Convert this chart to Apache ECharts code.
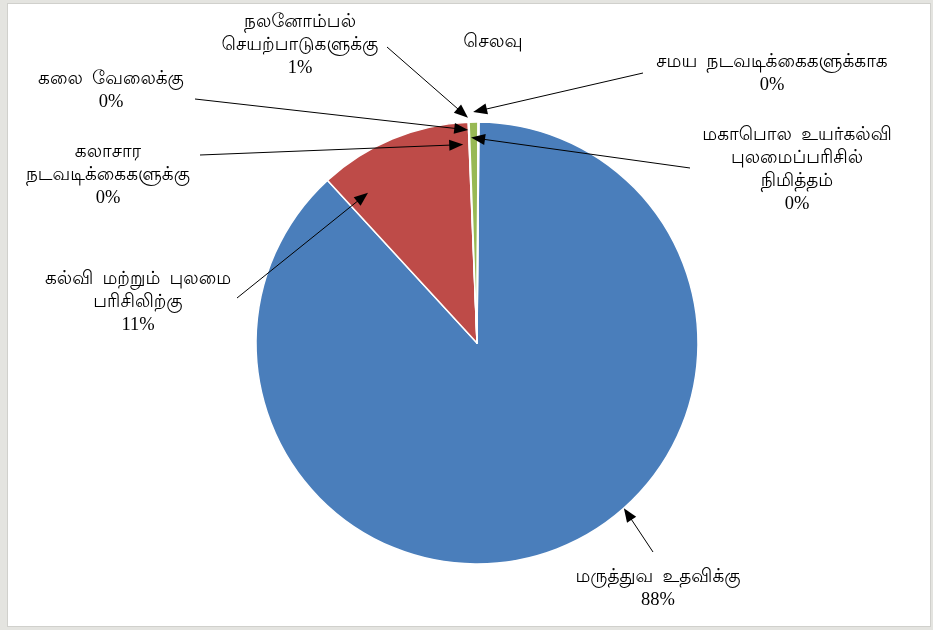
<!DOCTYPE html>
<html>
<head>
<meta charset="utf-8">
<script src="https://cdn.jsdelivr.net/npm/echarts@6/dist/echarts.min.js"></script>
<style>
  html, body { margin: 0; padding: 0; background: #e4e4e0; }
  #wrap { position: absolute; left: 7px; top: 3px; width: 922px; height: 622px; background: #fff; border: 1px solid #d0d0cc; }
  #chart { width: 922px; height: 622px; }
</style>
</head>
<body>
<div id="wrap"><div id="chart"></div></div>
<script>
// ---- data ----
const titleText = 'செலவு';
const categories = [
  'மருத்துவ  உதவிக்கு',
  'கல்வி  மற்றும்  புலமை\nபரிசிலிற்கு',
  'கலாசார\nநடவடிக்கைகளுக்கு',
  'கலை  வேலைக்கு',
  'நலனோம்பல்\nசெயற்பாடுகளுக்கு',
  'சமய  நடவடிக்கைகளுக்காக',
  'மகாபொல  உயர்கல்வி\nபுலமைப்பரிசில்\nநிமித்தம்'
];
const values = [88.0, 11.2, 0.03, 0.03, 0.65, 0.03, 0.03];
const colors = ['#4A7EBB', '#BE4B48', '#8064A2', '#4BACC6', '#98B954', '#F79646', '#2C4D75'];

// ---- layout only (label centres, leader-line starts, arrow anchor: angle offset from slice middle, radius factor) ----
const labelPos  = [[650, 585], [130, 298], [100, 171], [103, 87], [292, 41], [764, 70], [789, 166]];
const lineStart = [[645, 548], [229, 294], [192, 151], [187, 95], [379, 43], [635, 69], [682, 164]];
const anchorAdj = [[-20.6, 1.0], [-13.5, 0.84], [-1.75, 0.9], [-0.25, 0.965], [-1.4, 1.02], [-1.3, 1.045], [-2.1, 0.93]];
const CX = 469, CY = 339, R = 221, START = 89.5;

// arrow tip on each slice, derived from the slice angles of the data
const total = values.reduce((a, b) => a + b, 0);
const tips = [];
(function () {
  let a = 90 - START; // clockwise from 12 o'clock
  values.forEach((v, i) => {
    const span = v / total * 360;
    const th = (a + span / 2 + anchorAdj[i][0]) * Math.PI / 180;
    const r = R * anchorAdj[i][1];
    tips.push([CX + r * Math.sin(th), CY - r * Math.cos(th)]);
    a += span;
  });
})();

const chart = echarts.init(document.getElementById('chart'));
const fontFam = "'Liberation Serif', 'Lohit Tamil', 'Noto Serif Tamil', serif";

const leaders = [];
tips.forEach((tip, i) => {
  const from = lineStart[i];
  const dx = tip[0] - from[0], dy = tip[1] - from[1];
  const len = Math.hypot(dx, dy) || 1;
  const ux = dx / len, uy = dy / len;
  const L = 14, W = 5.5;
  const bx = tip[0] - ux * L, by = tip[1] - uy * L;
  leaders.push({
    type: 'line', silent: true, z: 99,
    shape: { x1: from[0], y1: from[1], x2: bx + ux * 2, y2: by + uy * 2 },
    style: { stroke: '#000', lineWidth: 1 }
  });
  leaders.push({
    type: 'polygon', silent: true, z: 100,
    shape: { points: [[tip[0], tip[1]], [bx - uy * W, by + ux * W], [bx + uy * W, by - ux * W]] },
    style: { fill: '#000' }
  });
});

chart.setOption({
  animation: false,
  graphic: [{
    type: 'text', x: 485, y: 38,
    style: { text: titleText, font: "19px " + fontFam, fill: '#000', align: 'center', verticalAlign: 'middle' }
  }].concat(leaders),
  series: [{
    type: 'pie',
    center: [CX, CY],
    radius: R,
    startAngle: START,
    clockwise: true,
    avoidLabelOverlap: false,
    itemStyle: { borderColor: '#fff', borderWidth: 1.5 },
    label: {
      show: true,
      fontFamily: fontFam,
      fontSize: 18.5,
      lineHeight: 23,
      color: '#000',
      align: 'center',
      formatter: p => p.name + '\n' + Math.round(p.percent) + '%'
    },
    labelLine: { show: false },
    labelLayout: p => {
      const pos = labelPos[p.dataIndex];
      return { x: pos[0], y: pos[1], align: 'center', verticalAlign: 'middle' };
    },
    data: categories.map((c, i) => ({ name: c, value: values[i], itemStyle: { color: colors[i] } }))
  }]
});
</script>
</body>
</html>
